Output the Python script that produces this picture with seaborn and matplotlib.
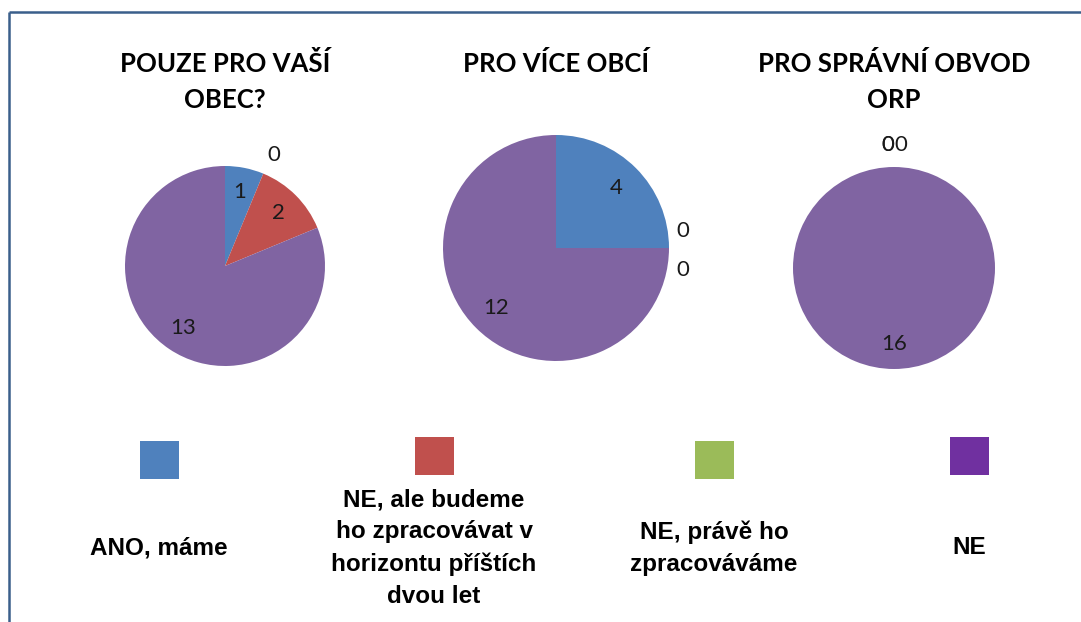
import matplotlib.pyplot as plt
import seaborn as sns
import numpy as np
from matplotlib.patches import Rectangle

# data
categories = ["ANO, máme",
              "NE, ale budeme\nho zpracovávat v\nhorizontu příštích\ndvou let",
              "NE, právě ho\nzpracováváme",
              "NE"]
titles = ["POUZE PRO VAŠÍ\nOBEC?", "PRO VÍCE OBCÍ", "PRO SPRÁVNÍ OBVOD\nORP"]
vasi_obec = [1, 2, 0, 13]
vice_obci = [4, 0, 0, 12]
obvod_orp = [0, 0, 0, 16]
series = [vasi_obec, vice_obci, obvod_orp]

pie_colors = ["#4F81BD", "#C0504D", "#9BBB59", "#8064A2"]
legend_colors = ["#4F81BD", "#C0504D", "#9BBB59", "#7030A0"]

sns.set_theme(style="white")
plt.rcParams['font.family'] = ['Lato', 'DejaVu Sans']

W, H = 1081, 622
fig = plt.figure(figsize=(W / 100, H / 100), dpi=100)

# pie centre / radius in pixels
layout = [(225, 266, 100), (556, 248, 113), (894, 268, 101)]
# where excel put the "0" labels (angle, distance in radii)
zero_spots = {(0, 2): (66, 1.21), (1, 1): (7.5, 1.13), (1, 2): (-10, 1.14),
              (2, 0): (93, 1.22), (2, 1): (93, 1.22), (2, 2): (87, 1.22)}

for i, (vals, title, (cx, cy, r)) in enumerate(zip(series, titles, layout)):
    pad = 1.3
    ax = fig.add_axes([(cx - pad * r) / W, (H - cy - pad * r) / H,
                       2 * pad * r / W, 2 * pad * r / H])
    wedges, _ = ax.pie(vals, colors=pie_colors, startangle=90, counterclock=False,
                       wedgeprops=dict(linewidth=0))
    ax.set_xlim(-pad, pad)
    ax.set_ylim(-pad, pad)
    ax.set_aspect('equal')
    ax.axis('off')
    for j, (w, v) in enumerate(zip(wedges, vals)):
        if v == 0:
            ang, dist = zero_spots[(i, j)]
        else:
            ang, dist = (w.theta1 + w.theta2) / 2, 0.75
        a = np.deg2rad(ang)
        ax.text(dist * np.cos(a), dist * np.sin(a), str(v), ha='center', va='center',
                fontsize=16, color='#1a1a1a')

    fig.text(cx / W, 1 - 51 / H, title, ha='center', va='top', fontsize=18.5,
             fontweight='bold', linespacing=1.62, color='black')

# overlay in pixel coords for legend and frame
ov = fig.add_axes([0, 0, 1, 1], zorder=-1)
ov.set_xlim(0, W)
ov.set_ylim(H, 0)
ov.axis('off')

ov.plot([9, W + 5], [12, 12], color='#3A5F8B', lw=1.8, solid_capstyle='butt')
ov.plot([9, 9], [12, H + 5], color='#3A5F8B', lw=1.8, solid_capstyle='butt')

leg_x = [159, 434, 714, 969]
leg_y = [460, 456, 460, 456]
for lab, col, x, y in zip(categories, legend_colors, leg_x, leg_y):
    ov.add_patch(Rectangle((x - 19.5, y - 19), 39, 38, color=col, lw=0))
    ov.text(x, 548, lab, ha='center', va='center', fontsize=17.5, fontweight='bold',
            family=['Liberation Sans', 'DejaVu Sans'], linespacing=1.49, color='black')

fig.savefig("out.png", dpi=100)
